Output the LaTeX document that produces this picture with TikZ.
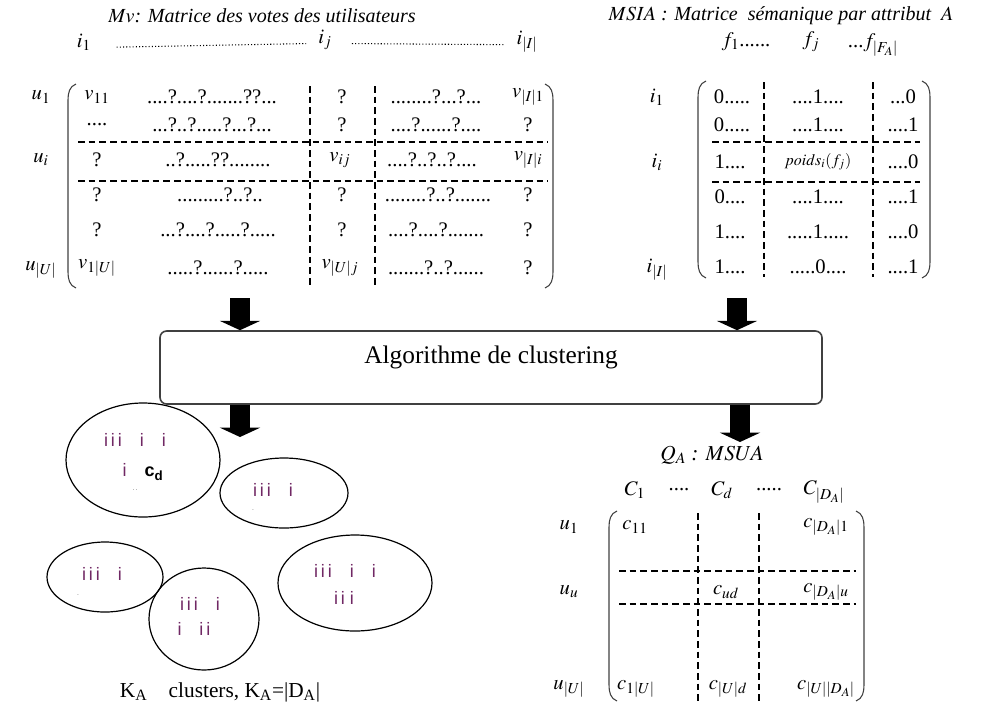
\documentclass[tikz,border=0pt]{standalone}
\usepackage{mathptmx}
\usepackage[no-math]{fontspec}
\setmainfont{Liberation Serif}
\setsansfont{Liberation Sans}
\usetikzlibrary{shapes,arrows.meta,positioning}
\definecolor{itemcol}{RGB}{112,40,100}
\newcommand{\drawlpar}[3]{\draw[paren] (#1+8,#2) to[out=200,in=90] (#1,#2+16) -- (#1,#3-16) to[out=-90,in=160] (#1+8,#3);}
\newcommand{\drawrpar}[3]{\draw[paren] (#1-8,#2) to[out=-20,in=90] (#1,#2+16) -- (#1,#3-16) to[out=-90,in=20] (#1-8,#3);}

\begin{document}
\begin{tikzpicture}[x=0.75pt, y=-0.75pt, >=Triangle]
			\tikzset{
				title/.style={font=\fontsize{15}{17}\selectfont\itshape},
				entry/.style={inner sep=1pt, font=\fontsize{15.5}{17}\selectfont},
				small/.style={inner sep=1pt, font=\fontsize{12}{14}\selectfont},
				sep/.style={dash pattern=on 5pt off 3pt, line width=0.9pt},
				dotline/.style={dash pattern=on 0.8pt off 1.6pt, line width=0.8pt},
				paren/.style={line width=0.8pt, draw=black!75},
				cluster/.style={ellipse, draw, line width=0.9pt, inner sep=0pt},
				items/.style={font=\sffamily\fontsize{13.5}{15}\selectfont, text=itemcol, inner sep=0pt},
				algo/.style={rectangle, rounded corners=5pt, draw=black!75, line width=1.2pt, minimum width=496.5pt, minimum height=54.75pt},
				bigarrow/.style={line width=15pt, -{Triangle[width=30pt, length=7pt]}},
			}
			\useasboundingbox (0,0) rectangle (1002,708);
			% Mv matrix
			\node[title](mvtitle) at (262,16){$Mv$: Matrice des votes des utilisateurs};
			\node[entry](mvh1) at (84,42){$i_1$};
			\node[entry](mvhj) at (325,40){$i_j$};
			\node[entry](mvhI) at (527,42){$i_{|I|}$};
			\draw[dotline] ([xshift=18pt]mvh1.base east) -- ([xshift=-8pt]mvhj.base west);
			\draw[dotline] ([xshift=14pt]mvhj.base east) -- ([xshift=-8pt]mvhI.base west);
			\node[entry](mvu1) at (41,97){$u_1$};
			\node[entry](mvui) at (41,160){$u_i$};
			\node[entry](mvuU) at (41,270){$u_{|U|}$};
			\drawlpar{68}{84}{288}
			\drawrpar{553}{84}{288}
			\node[entry](mv11) at (97,97){$v_{11}$};
			\node[entry](mv12) at (212,97){....?....?.......??...};
			\node[entry](mv13) at (342,97){?};
			\node[entry](mv14) at (436,97){........?...?...};
			\node[entry](mv15) at (528,97){$v_{|I|1}$};
			\node[entry](mv21) at (97,125){....};
			\node[entry](mv22) at (212,125){...?..?.....?...?...};
			\node[entry](mv23) at (342,125){?};
			\node[entry](mv24) at (436,125){....?......?....};
			\node[entry](mv25) at (528,125){?};
			\node[entry](mv31) at (97,160){?};
			\node[entry](mv32) at (218,160){..?.....??........};
			\node[entry](mv33) at (340,160){$v_{ij}$};
			\node[entry](mv34) at (432,160){....?..?..?....};
			\node[entry](mv35) at (528,160){$v_{|I|i}$};
			\node[entry](mv41) at (97,195){?};
			\node[entry](mv42) at (220,195){.........?..?..};
			\node[entry](mv43) at (342,195){?};
			\node[entry](mv44) at (438,195){........?..?.......};
			\node[entry](mv45) at (528,195){?};
			\node[entry](mv51) at (97,230){?};
			\node[entry](mv52) at (218,230){...?....?.....?.....};
			\node[entry](mv53) at (342,230){?};
			\node[entry](mv54) at (436,230){....?....?.......};
			\node[entry](mv55) at (528,230){?};
			\node[entry](mv61) at (97,268){$v_{1|U|}$};
			\node[entry](mv62) at (218,268){.....?......?.....};
			\node[entry](mv63) at (340,268){$v_{|U|j}$};
			\node[entry](mv64) at (436,268){.......?..?......};
			\node[entry](mv65) at (528,268){?};
			\draw[sep] (78,142) -- (548,142);
			\draw[sep] (78,181) -- (548,181);
			\draw[sep] (310,86) -- (310,288);
			\draw[sep] (375,86) -- (375,288);
			% MSIA matrix
			\node[title](msiatitle) at (781,16){$MSIA$ : Matrice \ sémanique par attribut \ $A$};
			\node[entry](msh1) at (746,42){$f_1$......};
			\node[entry](mshj) at (811,42){$f_j$};
			\node[entry](mshF) at (873,45){...$f_{|F_A|}$};
			\node[entry](msi1) at (657,97){$i_1$};
			\node[entry](msii) at (657,162){$i_i$};
			\node[entry](msiI) at (657,270){$i_{|I|}$};
			\drawlpar{698}{81}{278}
			\drawrpar{930}{81}{278}
			\node[entry](ms11) at (732,97){0.....};
			\node[entry](ms12) at (818,97){....1....};
			\node[entry](ms13) at (903,97){...0};
			\node[entry](ms21) at (732,125){0.....};
			\node[entry](ms22) at (818,125){....1....};
			\node[entry](ms23) at (903,125){....1};
			\node[entry](ms31) at (730,162){1....};
			\node[small](ms32) at (818,162){$poids_i(f_j)$};
			\node[entry](ms33) at (903,162){....0};
			\node[entry](ms41) at (730,197){0....};
			\node[entry](ms42) at (818,197){....1....};
			\node[entry](ms43) at (903,197){....1};
			\node[entry](ms51) at (730,232){1....};
			\node[entry](ms52) at (818,232){.....1.....};
			\node[entry](ms53) at (903,232){....0};
			\node[entry](ms61) at (730,267){1....};
			\node[entry](ms62) at (818,267){.....0....};
			\node[entry](ms63) at (903,267){....1};
			\draw[sep] (712,142) -- (920,142);
			\draw[sep] (712,182) -- (920,182);
			\draw[sep] (764,82) -- (764,277);
			\draw[sep] (873,82) -- (873,277);
			% clustering
			\node[algo, label={[font=\fontsize{19}{21}\selectfont, yshift=7.5pt]center:Algorithme de clustering}](algo) at (491,367.5){};
			\coordinate (mvout) at (240,298);
			\coordinate (msiaout) at (737,298);
			\coordinate (clin) at (240,437);
			\coordinate (qain) at (740,442);
			%draw arrows
			\draw[bigarrow] (mvout) -- (mvout |- algo.north);
			\draw[bigarrow] (msiaout) -- (msiaout |- algo.north);
			\draw[bigarrow] (algo.south -| clin) -- (clin);
			\draw[bigarrow] (algo.south -| qain) -- (qain);
			% clusters
			\node[cluster, minimum width=115.5pt, minimum height=85.5pt](cl1) at (143,460){};
			\node[cluster, minimum width=96pt, minimum height=52.5pt](cl2) at (284,493){};
			\node[cluster, minimum width=87pt, minimum height=52.5pt](cl3) at (105,577){};
			\node[cluster, minimum width=82.5pt, minimum height=76.5pt](cl4) at (204,619){};
			\node[cluster, minimum width=115.5pt, minimum height=72pt](cl5) at (355,583){};
			\node[items](cl1a) at (135,440){i\,i\,i\quad i\quad i};
			\node[items](cl1b) at (143,472){i\quad\textcolor{black}{\textbf{c}\textsubscript{\textbf{d}}}};
			\node[items, text=black!60](cl1c) at (135,490){\tiny .\,.};
			\node[items](cl2a) at (273,490){i\,i\,i\quad i};
			\node[items, text=black!60](cl2b) at (253,510){\tiny .};
			\node[items](cl3a) at (102,574){i\,i\,i\quad i};
			\node[items, text=black!60](cl3b) at (78,595){\tiny .};
			\node[items](cl4a) at (200,604){i\,i\,i\quad i};
			\node[items](cl4b) at (194,629){i\quad i\,i};
			\node[items](cl5a) at (345,571){i\,i\,i\quad i\quad i};
			\node[items](cl5b) at (344,598){i\,i\;i};
			\node[inner sep=1pt, font=\fontsize{16}{18}\selectfont](kacap) at (220,692){K\textsubscript{A}\quad clusters, K\textsubscript{A}=|D\textsubscript{A}|};
			% Q_A matrix
			\node[title, font=\fontsize{16}{18}\selectfont\itshape](qatitle) at (712,455){$Q_A$ : $MSUA$};
			\node[entry](qah1) at (635,490){$C_1$};
			\node[entry](qadots1) at (679,490){....};
			\node[entry](qahd) at (722,490){$C_d$};
			\node[entry](qadots2) at (769,490){.....};
			\node[entry](qahD) at (824,492){$C_{|D_A|}$};
			\node[entry](qau1) at (569,527){$u_1$};
			\node[entry](qauu) at (569,592){$u_u$};
			\node[entry](qauU) at (569,689){$u_{|U|}$};
			\drawlpar{609}{511}{701}
			\drawrpar{864}{511}{701}
			\node[entry](qa11) at (635,527){$c_{11}$};
			\node[entry](qa13) at (826,527){$c_{|D_A|1}$};
			\node[entry](qa22) at (726,592){$c_{ud}$};
			\node[entry](qa23) at (826,592){$c_{|D_A|u}$};
			\node[entry](qa31) at (636,689){$c_{1|U|}$};
			\node[entry](qa32) at (728,689){$c_{|U|d}$};
			\node[entry](qa33) at (826,689){$c_{|U||D_A|}$};
			\draw[sep] (619,571) -- (856,571);
			\draw[sep] (619,604) -- (856,604);
			\draw[sep] (698,513) -- (698,701);
			\draw[sep] (759,513) -- (759,701);
		\end{tikzpicture}
\end{document}
